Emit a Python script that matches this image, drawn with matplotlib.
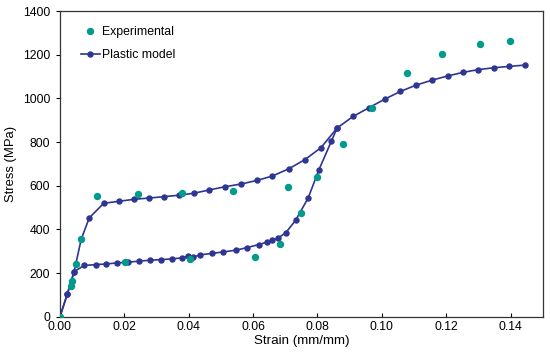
import matplotlib
matplotlib.use("Agg")
from matplotlib import pyplot as plt

plt.rcParams['font.family'] = ['Liberation Sans', 'DejaVu Sans']

# experimental points
exp_strain = [0.0, 0.0033, 0.0036, 0.0050, 0.0066, 0.0114, 0.0203, 0.0241, 0.0378,
              0.0403, 0.0536, 0.0606, 0.0685, 0.0709, 0.0749, 0.0799, 0.0878,
              0.0968, 0.1078, 0.1188, 0.1306, 0.1399]
exp_stress = [0, 139, 162, 241, 355, 555, 252, 564, 569,
              264, 578, 274, 335, 596, 474, 641, 791,
              956, 1118, 1206, 1249, 1263]

# plastic model, upper branch (through to the end)
upper_strain = [0.0, 0.0023, 0.0044, 0.0066, 0.0091, 0.0136, 0.0183, 0.0229, 0.0276,
                0.0322, 0.0370, 0.0416, 0.0464, 0.0513, 0.0562, 0.0613, 0.0660,
                0.0711, 0.0761, 0.0811, 0.0861, 0.0911, 0.0959, 0.1009, 0.1057,
                0.1106, 0.1156, 0.1204, 0.1253, 0.1299, 0.1348, 0.1396, 0.1444]
upper_stress = [0, 105, 207, 355, 453, 520, 529, 538, 544,
                550, 557, 566, 581, 596, 608, 625, 645,
                678, 720, 775, 865, 918, 957, 997, 1032,
                1061, 1084, 1103, 1120, 1132, 1141, 1147, 1153]

# plastic model, lower branch
lower_strain = [0.0, 0.0023, 0.0044, 0.0075, 0.0111, 0.0144, 0.0178, 0.0211, 0.0245,
                0.0279, 0.0313, 0.0347, 0.0380, 0.0399, 0.0413, 0.0436, 0.0471,
                0.0506, 0.0546, 0.0581, 0.0618, 0.0643, 0.0660, 0.0678, 0.0702,
                0.0732, 0.0771, 0.0804, 0.0843, 0.0861]
lower_stress = [0, 105, 207, 235, 239, 242, 247, 250, 255,
                259, 262, 265, 270, 278, 273, 284, 290,
                297, 305, 317, 331, 342, 351, 361, 386,
                442, 544, 672, 804, 865]

BLUE = "#2e3592"
GREEN = "#009b8c"

fig = plt.figure(figsize=(5.5, 3.6), dpi=100)
ax = fig.add_axes([0.109, 0.12, 0.878, 0.849])

ax.plot(lower_strain, lower_stress, color=BLUE, lw=1.2, marker="o", ms=3.6, zorder=2)
ax.plot(upper_strain, upper_stress, color=BLUE, lw=1.2, marker="o", ms=3.6,
        label="Plastic model", zorder=2)
ax.plot(exp_strain, exp_stress, ls="none", color=GREEN, marker="o", ms=4.3,
        label="Experimental", zorder=3)

ax.set_xlim(0, 0.15)
ax.set_ylim(0, 1400)
ax.set_xticks([0.0, 0.02, 0.04, 0.06, 0.08, 0.10, 0.12, 0.14])
ax.set_xticklabels(["0.00", "0.02", "0.04", "0.06", "0.08", "0.10", "0.12", "0.14"])
ax.set_yticks(range(0, 1401, 200))
ax.tick_params(axis="x", direction="in", length=3, labelsize=8.8, pad=3)
ax.tick_params(axis="y", direction="out", length=3, labelsize=8.8, pad=4)
for s in ax.spines.values():
    s.set_color("#333333")
    s.set_linewidth(0.9)

ax.set_xlabel("Strain (mm/mm)", fontsize=9.6)
ax.set_ylabel("Stress (MPa)", fontsize=9.4)
ax.xaxis.set_label_coords(0.5, -0.058)
ax.yaxis.set_label_coords(-0.088, 0.5)

h, l = ax.get_legend_handles_labels()
ax.legend(h[::-1], l[::-1], loc="upper left", bbox_to_anchor=(0.034, 0.968),
          borderaxespad=0, frameon=False, fontsize=8.8,
          handlelength=1.5, handletextpad=0.2, labelspacing=0.95)

fig.savefig("out.png", dpi=100)
